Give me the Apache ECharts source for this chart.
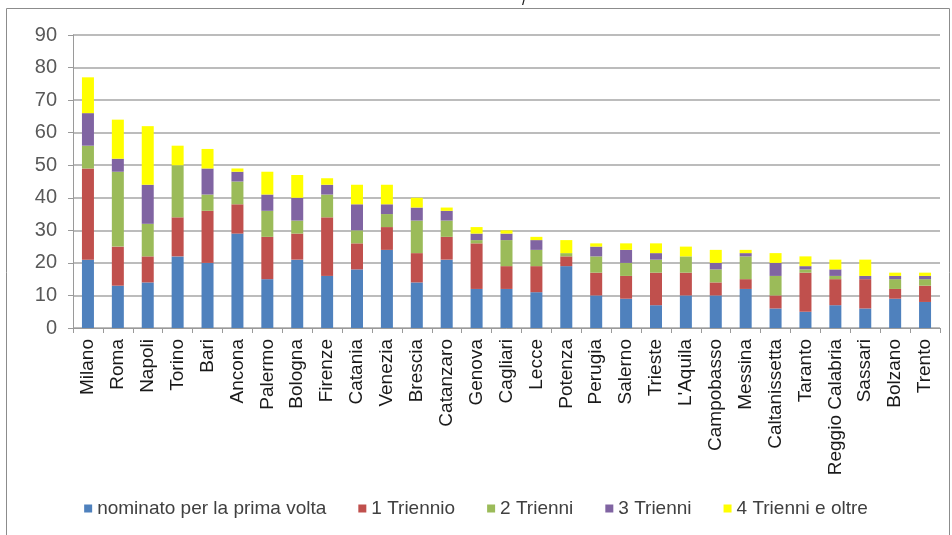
<!DOCTYPE html>
<html>
<head>
<meta charset="utf-8">
<script src="https://cdn.jsdelivr.net/npm/echarts@6/dist/echarts.min.js"></script>
<style>
  html, body { margin: 0; padding: 0; background: #fff; }
  #chart { width: 952px; height: 535px; }
</style>
</head>
<body>
<div id="chart"></div>
<script>
// dati
const cities = ['Milano', 'Roma', 'Napoli', 'Torino', 'Bari', 'Ancona', 'Palermo', 'Bologna', 'Firenze', 'Catania',
  'Venezia', 'Brescia', 'Catanzaro', 'Genova', 'Cagliari', 'Lecce', 'Potenza', 'Perugia', 'Salerno', 'Trieste',
  "L'Aquila", 'Campobasso', 'Messina', 'Caltanissetta', 'Taranto', 'Reggio Calabria', 'Sassari', 'Bolzano', 'Trento'];
const primaVolta = [21, 13, 14, 22, 20, 29, 15, 21, 16, 18, 24, 14, 21, 12, 12, 11, 19, 10, 9, 7, 10, 10, 12, 6, 5, 7, 6, 9, 8];
const triennio1  = [28, 12, 8, 12, 16, 9, 13, 8, 18, 8, 7, 9, 7, 14, 7, 8, 3, 7, 7, 10, 7, 4, 3, 4, 12, 8, 9, 3, 5];
const trienni2   = [7, 23, 10, 16, 5, 7, 8, 4, 7, 4, 4, 10, 5, 1, 8, 5, 1, 5, 4, 4, 5, 4, 7, 6, 1, 1, 0, 3, 2];
const trienni3   = [10, 4, 12, 0, 8, 3, 5, 7, 3, 8, 3, 4, 3, 2, 2, 3, 0, 3, 4, 2, 0, 2, 1, 4, 1, 2, 1, 1, 1];
const trienni4   = [11, 12, 18, 6, 6, 1, 7, 7, 2, 6, 6, 3, 1, 2, 1, 1, 4, 1, 2, 3, 3, 4, 1, 3, 3, 3, 5, 1, 1];
const yTicks = [0, 10, 20, 30, 40, 50, 60, 70, 80, 90];

const seriesDefs = [
  { name: 'nominato per la prima volta', data: primaVolta, color: '#4F81BD' },
  { name: '1 Triennio', data: triennio1, color: '#C0504D' },
  { name: '2 Trienni', data: trienni2, color: '#9BBB59' },
  { name: '3 Trienni', data: trienni3, color: '#8064A2' },
  { name: '4 Trienni e oltre', data: trienni4, color: '#FFFF00' }
];

const chart = echarts.init(document.getElementById('chart'));
chart.setOption({
  animation: false,
  textStyle: { fontFamily: 'Liberation Sans, Arial, sans-serif' },
  graphic: [
    {
      type: 'rect',
      shape: { x: 6.5, y: 8.5, width: 943, height: 540 },
      style: { fill: 'none', stroke: '#8c8c8c', lineWidth: 1 },
      silent: true
    },
    {
      type: 'text',
      left: 522, top: -7,
      style: { text: '/', fill: '#222', font: '16px Liberation Sans' }
    }
  ],
  grid: { left: 73, right: 12, top: 35, bottom: 207, containLabel: false },
  legend: {
    bottom: 12,
    left: 'center',
    icon: 'rect',
    itemWidth: 8,
    itemHeight: 8,
    itemGap: 32,
    textStyle: { color: '#404040', fontSize: 19 },
    data: seriesDefs.map(s => s.name)
  },
  xAxis: {
    type: 'category',
    data: cities,
    axisLine: { lineStyle: { color: '#9a9a9a', width: 1 } },
    axisTick: { show: true, alignWithLabel: false, length: 5, lineStyle: { color: '#9a9a9a' } },
    axisLabel: { rotate: 90, interval: 0, color: '#1a1a1a', fontSize: 19, margin: 11 }
  },
  yAxis: {
    type: 'value',
    min: 0,
    max: 90,
    interval: 10,
    axisLine: { show: true, lineStyle: { color: '#9a9a9a' } },
    axisTick: { show: true, length: 5, lineStyle: { color: '#9a9a9a' } },
    axisLabel: {
      color: '#595959', fontSize: 20, margin: 16,
      formatter: v => yTicks.includes(v) ? String(v) : ''
    },
    splitLine: { lineStyle: { color: '#a6a6a6', width: 1.5 } }
  },
  series: seriesDefs.map(s => ({
    name: s.name,
    type: 'bar',
    stack: 'tot',
    barWidth: 12,
    data: s.data,
    itemStyle: { color: s.color }
  }))
});
</script>
</body>
</html>
